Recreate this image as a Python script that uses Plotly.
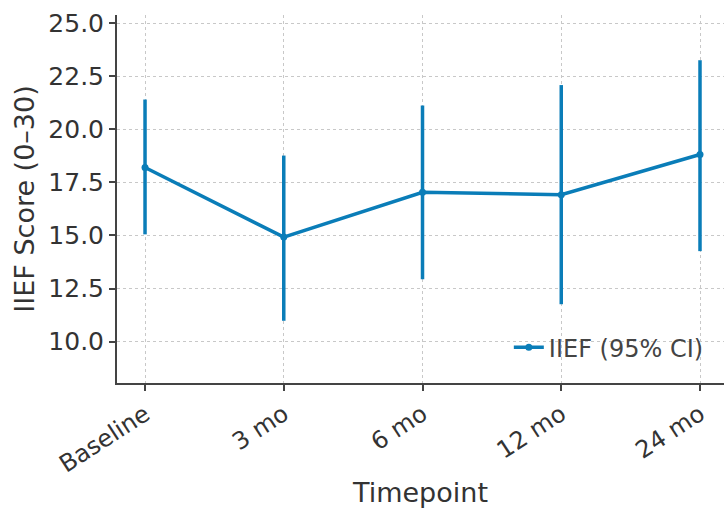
import plotly.graph_objects as go

timepoints = ["Baseline", "3 mo", "6 mo", "12 mo", "24 mo"]
iief_mean = [18.2, 14.92, 17.03, 16.92, 18.81]
ci_upper = [21.4, 18.76, 21.12, 22.08, 23.25]
ci_lower = [15.05, 10.98, 12.94, 11.76, 14.26]

err_plus = [u - m for u, m in zip(ci_upper, iief_mean)]
err_minus = [m - l for m, l in zip(iief_mean, ci_lower)]
xs = list(range(len(timepoints)))

color = "#0a7db8"
font_family = "DejaVu Sans"

fig = go.Figure()
fig.add_trace(go.Scatter(
    x=xs, y=iief_mean, mode="lines+markers", name="IIEF (95% CI)",
    line=dict(color=color, width=3.5),
    marker=dict(color=color, size=7),
    error_y=dict(type="data", symmetric=False, array=err_plus, arrayminus=err_minus,
                 color=color, thickness=3.5, width=0),
))

fig.update_layout(
    width=724, height=508,
    margin=dict(l=117, r=0, t=15, b=125),
    paper_bgcolor="white", plot_bgcolor="white",
    font=dict(family=font_family, size=25, color="#333333"),
    showlegend=True,
    legend=dict(x=0.975, xanchor="right", y=0.035, yanchor="bottom",
                bgcolor="rgba(255,255,255,0)", font=dict(size=24, color="#444444")),
    xaxis=dict(
        range=[-0.202, 4.173], tickmode="array", tickvals=xs, ticktext=timepoints,
        tickangle=-33, showline=True, linecolor="#444444", linewidth=2,
        ticks="outside", ticklen=6, tickcolor="#444444", tickwidth=1.5,
        showgrid=True, gridcolor="#c8c8c8", griddash="dot", gridwidth=1,
        zeroline=False, automargin=False, tickfont=dict(size=24),
        title=dict(text="Timepoint", font=dict(size=27, color="#333333"), standoff=18),
    ),
    yaxis=dict(
        range=[8.05, 25.38], tickmode="array",
        tickvals=[10.0, 12.5, 15.0, 17.5, 20.0, 22.5, 25.0],
        ticktext=["10.0", "12.5", "15.0", "17.5", "20.0", "22.5", "25.0"],
        showline=True, linecolor="#444444", linewidth=2,
        ticks="outside", ticklen=6, tickcolor="#444444", tickwidth=1.5,
        showgrid=True, gridcolor="#c8c8c8", griddash="dot", gridwidth=1,
        zeroline=False, automargin=False, tickfont=dict(size=25),
        title=dict(text="IIEF Score (0–30)", font=dict(size=27, color="#333333"), standoff=6),
    ),
)

fig.write_html("out.html", config={"displayModeBar": False},
               post_script="document.body.style.margin='0';")
